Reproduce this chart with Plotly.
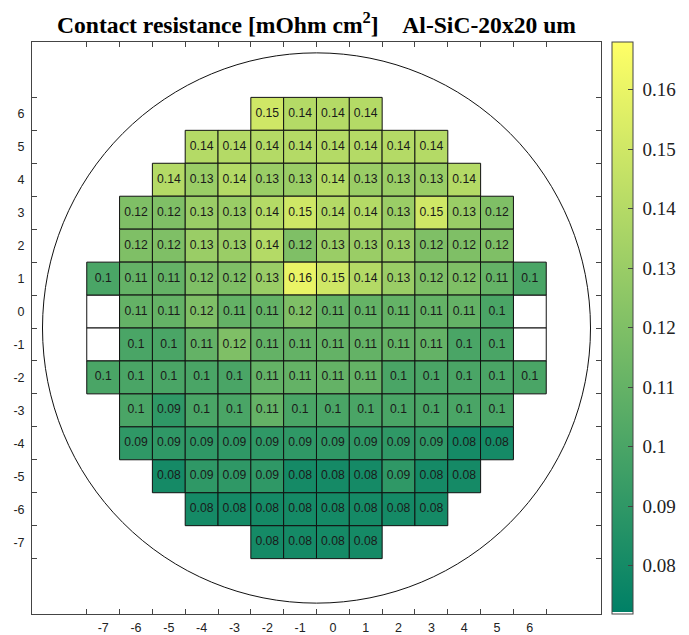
import plotly.graph_objects as go

# ---- data (wafer map, row by row, y from 6 down to -7) ----
x_tick_labels = [-7, -6, -5, -4, -3, -2, -1, 0, 1, 2, 3, 4, 5, 6]
y_tick_labels = [6, 5, 4, 3, 2, 1, 0, -1, -2, -3, -4, -5, -6, -7]

row_y = [6, 5, 4, 3, 2, 1, 0, -1, -2, -3, -4, -5, -6, -7]
row_first_x = [-2, -4, -5, -6, -6, -7, -7, -7, -7, -6, -6, -5, -4, -2]

row_p6 = [0.15, 0.14, 0.14, 0.14]
row_p5 = [0.14, 0.14, 0.14, 0.14, 0.14, 0.14, 0.14, 0.14]
row_p4 = [0.14, 0.13, 0.14, 0.13, 0.13, 0.14, 0.13, 0.13, 0.13, 0.14]
row_p3 = [0.12, 0.12, 0.13, 0.13, 0.14, 0.15, 0.14, 0.14, 0.13, 0.15, 0.13, 0.12]
row_p2 = [0.12, 0.12, 0.13, 0.13, 0.14, 0.12, 0.13, 0.13, 0.13, 0.12, 0.12, 0.12]
row_p1 = [0.1, 0.11, 0.11, 0.12, 0.12, 0.13, 0.16, 0.15, 0.14, 0.13, 0.12, 0.12, 0.11, 0.1]
row_0 = [None, 0.11, 0.11, 0.12, 0.11, 0.11, 0.12, 0.11, 0.11, 0.11, 0.11, 0.11, 0.1, None]
row_m1 = [None, 0.1, 0.1, 0.11, 0.12, 0.11, 0.11, 0.11, 0.11, 0.11, 0.11, 0.1, 0.1, None]
row_m2 = [0.1, 0.1, 0.1, 0.1, 0.1, 0.11, 0.11, 0.11, 0.11, 0.1, 0.1, 0.1, 0.1, 0.1]
row_m3 = [0.1, 0.09, 0.1, 0.1, 0.11, 0.1, 0.1, 0.1, 0.1, 0.1, 0.1, 0.1]
row_m4 = [0.09, 0.09, 0.09, 0.09, 0.09, 0.09, 0.09, 0.09, 0.09, 0.09, 0.08, 0.08]
row_m5 = [0.08, 0.09, 0.09, 0.09, 0.08, 0.08, 0.08, 0.09, 0.08, 0.08]
row_m6 = [0.08, 0.08, 0.08, 0.08, 0.08, 0.08, 0.08, 0.08]
row_m7 = [0.08, 0.08, 0.08, 0.08]

cbar_ticks = [0.08, 0.09, 0.1, 0.11, 0.12, 0.13, 0.14, 0.15, 0.16]
c_min, c_max = 0.0719, 0.168

rows = [row_p6, row_p5, row_p4, row_p3, row_p2, row_p1, row_0,
        row_m1, row_m2, row_m3, row_m4, row_m5, row_m6, row_m7]

xs, ys, vals_all, texts = [], [], [], []
bx, by = [], []   # die sites without a value (drawn white)
for y, x0, vals in zip(row_y, row_first_x, rows):
    for i, v in enumerate(vals):
        if v is None:
            bx.append(x0 + i)
            by.append(y)
        else:
            xs.append(x0 + i)
            ys.append(y)
            vals_all.append(v)
            texts.append(f"{v:g}")

colorscale = [[0, "#ffffff"], [0.004, "#ffffff"], [0.004, "rgb(0,128,102)"],
              [1, "rgb(255,255,102)"]]

frame = "#444444"
cell_size = 32.9

fig = go.Figure()
fig.add_trace(go.Scatter(
    x=bx, y=by, mode="markers",
    marker=dict(symbol="square", size=cell_size, color="#ffffff",
                line=dict(color="#111111", width=1)),
    hoverinfo="skip", showlegend=False,
))
fig.add_trace(go.Scatter(
    x=xs, y=ys, mode="markers+text",
    text=texts, textposition="middle center",
    textfont=dict(family="Arial, Liberation Sans, sans-serif", size=12.2, color="#1a1a1a"),
    marker=dict(symbol="square", size=cell_size, color=vals_all, colorscale=colorscale,
                cmin=c_min, cmax=c_max, line=dict(color="#111111", width=1),
                colorbar=dict(
                    x=1.02, xanchor="left", xpad=0, y=0.5, yanchor="middle", ypad=0,
                    len=1, lenmode="fraction", thickness=21, thicknessmode="pixels",
                    outlinewidth=1, outlinecolor=frame,
                    ticks="inside", ticklen=5, tickcolor=frame,
                    tickvals=cbar_ticks, ticktext=["\u00a0" + f"{t:g}" for t in cbar_ticks],
                    tickfont=dict(family="Times New Roman, Liberation Serif, serif", size=19, color="#222"),
                )),
    hoverinfo="skip", showlegend=False,
))

# wafer outline
R = 8.35
cx, cy = -0.5, -0.5
fig.add_shape(type="circle", xref="x", yref="y", x0=cx - R, x1=cx + R, y0=cy - R, y1=cy + R,
              line=dict(color="#111111", width=1), layer="below")

half_x = [v - 0.5 for v in x_tick_labels] + [x_tick_labels[-1] + 0.5]
half_y = [v - 0.5 for v in y_tick_labels] + [y_tick_labels[0] + 0.5]

axis_common = dict(showgrid=False, zeroline=False, showline=True, linecolor=frame, linewidth=1,
                   mirror="allticks", ticks="", automargin=False,
                   tickfont=dict(family="Arial, Liberation Sans, sans-serif", size=12.5, color="#222"))

fig.update_xaxes(range=[-9.17, 8.17], tickvals=x_tick_labels, ticktext=[str(v) for v in x_tick_labels],
                 minor=dict(tickvals=half_x, ticks="inside", ticklen=5, tickcolor=frame, showgrid=False),
                 ticklabelstandoff=2, **axis_common)
fig.update_yaxes(range=[-9.18, 8.18], tickvals=y_tick_labels, ticktext=[str(v) for v in y_tick_labels],
                 minor=dict(tickvals=half_y, ticks="inside", ticklen=5, tickcolor=frame, showgrid=False),
                 ticklabelstandoff=4, **axis_common)

fig.update_layout(
    width=689, height=635,
    margin=dict(l=32, r=88, t=42, b=21, autoexpand=False),
    plot_bgcolor="white", paper_bgcolor="white",
    title=dict(text="Contact resistance [mOhm cm<sup>2</sup>]\u00a0\u00a0\u00a0\u00a0Al-SiC-20x20 um",
               x=0.5, xref="paper", xanchor="center",
               y=1 - 25 / 635, yref="container", yanchor="middle",
               font=dict(family="Times New Roman, Liberation Serif, serif", size=23.6, color="black",
                         weight="bold")),
)

fig.write_html("out.html")
